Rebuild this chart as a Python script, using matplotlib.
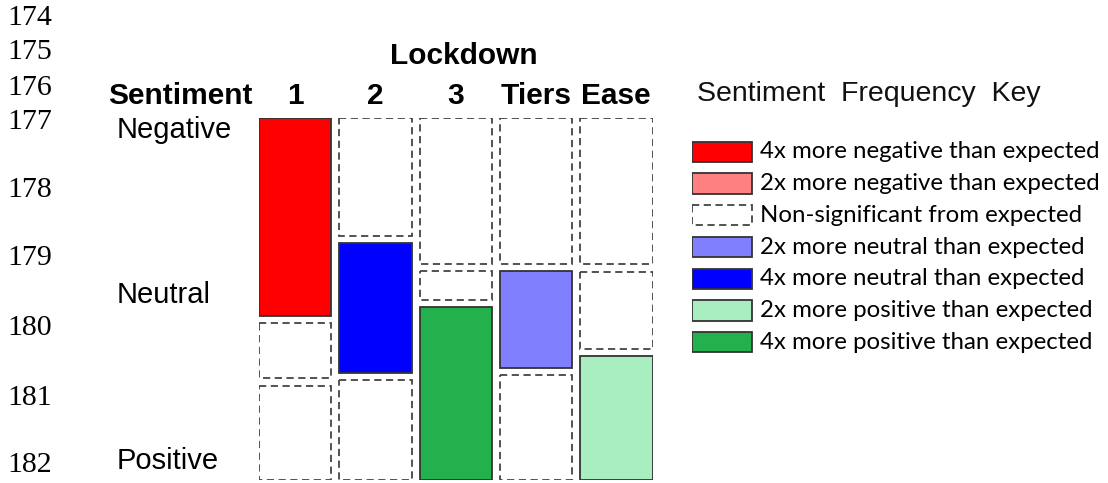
import matplotlib
matplotlib.use("Agg")
import matplotlib.pyplot as plt
from matplotlib.patches import Rectangle

# mosaic data: share of each sentiment within each lockdown period
lockdowns = ["1", "2", "3", "Tiers", "Ease"]
sentiments = ["Negative", "Neutral", "Positive"]
negative = [0.570, 0.340, 0.420, 0.420, 0.422]
neutral = [0.159, 0.373, 0.083, 0.278, 0.222]
positive = [0.271, 0.287, 0.497, 0.302, 0.356]
# significance class of each cell (key index, see below)
neg_class = ["neg4", "ns", "ns", "ns", "ns"]
neu_class = ["ns", "neu4", "ns", "neu2", "ns"]
pos_class = ["ns", "ns", "pos4", "ns", "pos2"]

key_ids = ["neg4", "neg2", "ns", "neu2", "neu4", "pos2", "pos4"]
key_labels = ["4x more negative than expected",
              "2x more negative than expected",
              "Non-significant from expected",
              "2x more neutral than expected",
              "4x more neutral than expected",
              "2x more positive than expected",
              "4x more positive than expected"]
key_colors = {"neg4": "#ff0000", "neg2": "#ff8080", "ns": "white",
              "neu2": "#8080ff", "neu4": "#0000ff",
              "pos2": "#a8eec0", "pos4": "#22b14c"}

line_numbers = ["174", "175", "176", "177", "178", "179", "180", "181", "182"]
line_y = [18, 52, 88, 122, 190, 258, 328, 398, 465]

W, H = 1108, 483
fig = plt.figure(figsize=(W / 100, H / 100), dpi=100)

def style(cls):
    if cls == "ns":
        return dict(facecolor="white", edgecolor="#444444", linestyle=(0, (4, 2.5)), linewidth=1.3)
    return dict(facecolor=key_colors[cls], edgecolor="#333333", linestyle="-", linewidth=1.3)

# mosaic axes
ax = fig.add_axes([259 / W, 1 - 480 / H, (652.7 - 259) / W, (480 - 117.7) / H])
ax.set_xlim(0, 4.9)
ax.set_ylim(1, 0)
ax.axis("off")
gap = 0.0207
scale = 1 - 2 * gap
for i in range(len(lockdowns)):
    top = 0.0
    for frac, cls in [(negative[i], neg_class[i]), (neutral[i], neu_class[i]), (positive[i], pos_class[i])]:
        h = frac * scale
        ax.bar(i, h, bottom=top, width=0.9, align="edge", **style(cls))
        top += h + gap
    fig.text((259 + 80.25 * i + 36) / W, 1 - 96 / H, lockdowns[i], ha="center", va="center",
             fontsize=21.5, fontweight="bold", family="Liberation Sans")

fig.text(464 / W, 1 - 56 / H, "Lockdown", ha="center", va="center",
         fontsize=21.5, fontweight="bold", family="Liberation Sans")
fig.text(108 / W, 1 - 96 / H, "Sentiment", ha="left", va="center",
         fontsize=21.5, fontweight="bold", family="Liberation Sans")
for s, y in zip(sentiments, [130, 295, 461]):
    fig.text(117 / W, 1 - y / H, s, ha="left", va="center", fontsize=21, family="Liberation Sans")

for n, y in zip(line_numbers, line_y):
    fig.text(7 / W, 1 - y / H, n, ha="left", va="center", fontsize=21.5, family="Liberation Serif")

# key
fig.text(697 / W, 1 - 94 / H, "Sentiment  Frequency  Key", ha="left", va="center",
         fontsize=20.5, family="Liberation Sans", color="#111111")
kax = fig.add_axes([692 / W, 1 - 358 / H, (1108 - 692) / W, (358 - 136) / H])
kax.set_xlim(0, 416)
kax.set_ylim(len(key_ids), 0)
kax.axis("off")
for j, (kid, lab) in enumerate(zip(key_ids, key_labels)):
    kax.add_patch(Rectangle((0, j + 0.18), 60, 0.64, **style(kid)))
    kax.text(68, j + 0.5, lab, ha="left", va="center", fontsize=17.3, family="Lato")

fig.savefig("out.png", dpi=100)
